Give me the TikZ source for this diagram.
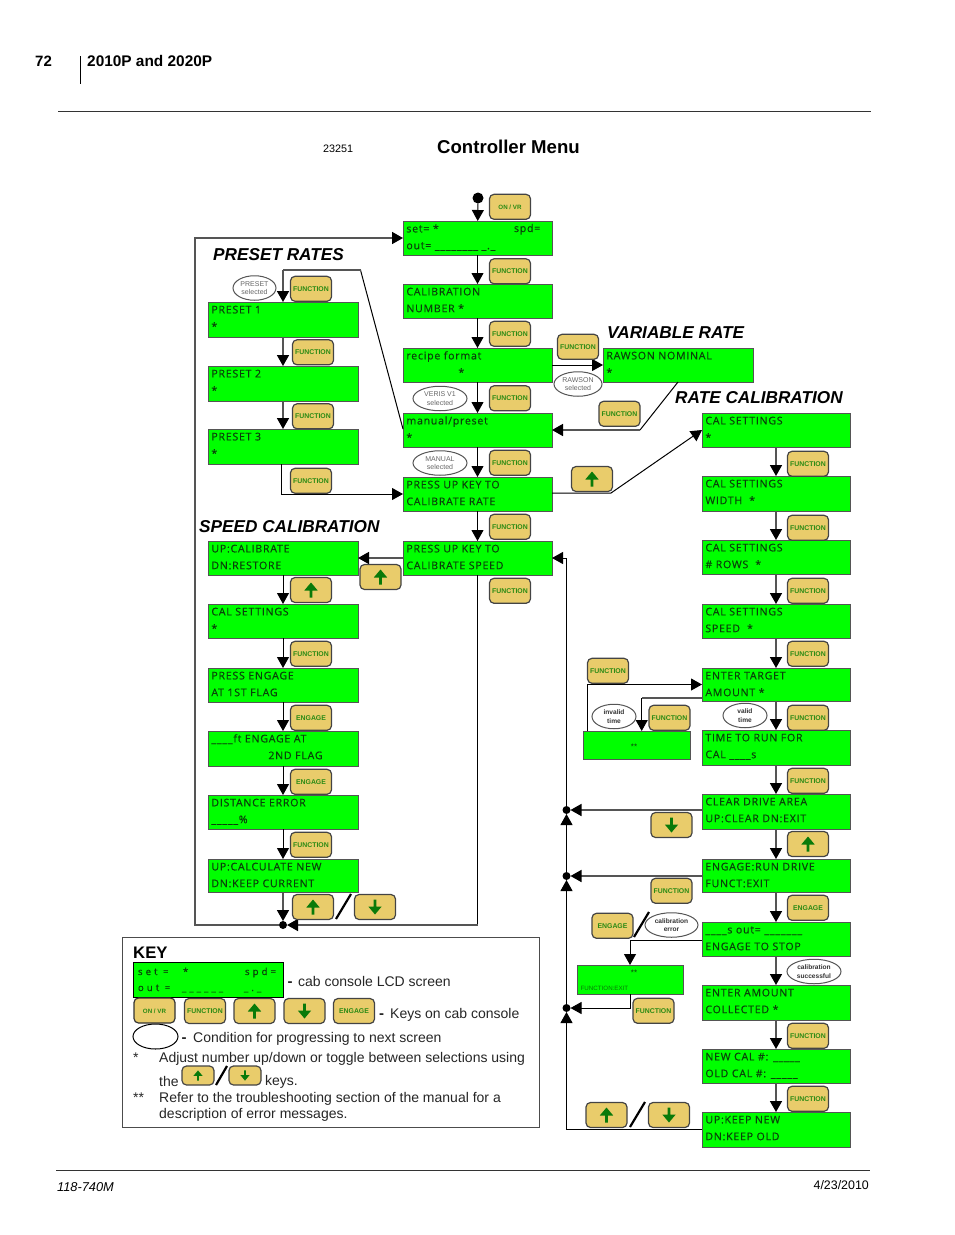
\documentclass[tikz,border=0pt]{standalone}
\usepackage{fontspec}
\setmainfont{Liberation Sans}
\newfontfamily\lcdfont[LetterSpace=7,FakeBold=0.3]{Open Sans}
\newfontfamily\lcdwide[LetterSpace=32,FakeBold=0.3]{Open Sans}
\usetikzlibrary{arrows.meta,shapes.geometric,calc}
\definecolor{lcdgreen}{HTML}{00FF00}
\definecolor{keyfill}{HTML}{E9CC6B}
\definecolor{keyink}{HTML}{2A8A14}
\definecolor{lcdink}{HTML}{0A400A}
\definecolor{edge}{HTML}{555555}
\definecolor{arrowgreen}{HTML}{0A7A0A}
\tikzset{
  lcdbox/.style={draw=edge,fill=lcdgreen,line width=1pt,inner sep=0pt,outer sep=0pt},
  lcdtext/.style={anchor=base west,inner sep=0pt,outer sep=0pt,text=lcdink,font=\lcdfont\fontsize{10.6}{12}\selectfont},
  keybox/.style={draw=edge!80!black,fill=keyfill,line width=1.2pt,rounded corners=4.5pt,minimum width=41pt,minimum height=25pt,inner sep=0pt,text=keyink,font=\fontsize{6.9}{8}\selectfont\bfseries},
  keysmall/.style={keybox,minimum width=32pt,minimum height=19pt},
  cond/.style={draw=edge,fill=white,ellipse,line width=1pt,inner sep=0pt,minimum height=24.5pt,align=center,text=black!60,font=\fontsize{7}{8.5}\selectfont},
  condb/.style={cond,text=black!80,font=\fontsize{6.6}{8.5}\selectfont\bfseries},
  dotn/.style={circle,fill=black,inner sep=0pt,minimum size=8pt,outer sep=0pt},
  arr/.style={-{Triangle[width=12pt,length=11pt,color=black]}},
  blk/.style={draw=black,line width=1pt},
  gry/.style={draw=edge,line width=1.6pt},
  heading/.style={anchor=base west,inner sep=0pt,font=\fontsize{17.2}{20}\selectfont\bfseries\itshape},
  plain/.style={anchor=base west,inner sep=0pt},
  legend/.style={anchor=base west,inner sep=0pt,text=black!85,font=\fontsize{14}{16}\selectfont},
  slashl/.style={draw=black,line width=2.2pt},
}
\newcommand\lcdscreen[7]{%
  \node[lcdbox,minimum width={(#4)-(#2)},minimum height={(#5)-(#3)}] (#1) at ({(#2+#4)/2},{(#3+#5)/2}) {};
  \node[lcdtext] (#1-a) at ([xshift=3.4pt,yshift=-11.4pt]#1.north west) {#6};
  \node[lcdtext] (#1-b) at ([xshift=3.4pt,yshift=-28.2pt]#1.north west) {#7};
}
\newcommand\fkey[4]{\node[keybox,text height=5pt,text depth=0pt] (#1) at (#2,{#3+0.8}) {#4};}
\newcommand\uparrowshape[2]{%
  \fill[arrowgreen,shift={(#1)},scale=#2] (0,-7.5)--(6.7,0.5)--(1.4,0.5)--(1.4,7.5)--(-1.4,7.5)--(-1.4,0.5)--(-6.7,0.5)--cycle;}
\newcommand\downarrowshape[2]{%
  \fill[arrowgreen,shift={(#1)},scale=#2] (0,7.5)--(6.7,-0.5)--(1.4,-0.5)--(1.4,-7.5)--(-1.4,-7.5)--(-1.4,-0.5)--(-6.7,-0.5)--cycle;}
\newcommand\upkey[3]{\node[keybox] (#1) at (#2,#3) {}; \uparrowshape{#1.center}{1}}
\newcommand\downkey[3]{\node[keybox] (#1) at (#2,#3) {}; \downarrowshape{#1.center}{1}}
\begin{document}
\begin{tikzpicture}[x=1pt,y=-1pt]
\useasboundingbox (0,0) rectangle (954,1235);
% page furniture
\node[plain,font=\fontsize{15}{16}\selectfont\bfseries] (pgno) at (35,66) {72};
\node[plain,font=\fontsize{15.4}{16}\selectfont\bfseries] (pgtitle) at (87,66) {2010P and 2020P};
\coordinate (rA) at (80,56); \coordinate (rB) at (80,84);
\draw[black,line width=.8pt] (rA) -- (rB);
\coordinate (hA) at (58,111); \coordinate (hB) at (871,111);
\draw[black!80,line width=.8pt] (hA) -- (hB);
\node[plain,font=\fontsize{10.8}{12}\selectfont] (fignum) at (323,152) {23251};
\node[plain,font=\fontsize{18.6}{20}\selectfont\bfseries] (menutitle) at (437,153) {Controller Menu};
\coordinate (fA) at (56,1170); \coordinate (fB) at (870,1170);
\draw[black!80,line width=.8pt] (fA) -- (fB);
\node[plain,font=\fontsize{12.8}{13}\selectfont\itshape] (docno) at (57,1191) {118-740M};
\node[anchor=base east,inner sep=0pt,font=\fontsize{12.4}{13}\selectfont] (docdate) at (869,1189) {4/23/2010};
% headings
\node[heading] (hPreset) at (213,260) {PRESET RATES};
\node[heading] (hVar) at (607,338) {VARIABLE RATE};
\node[heading] (hRate) at (675,403) {RATE CALIBRATION};
\node[heading] (hSpeed) at (199,532) {SPEED CALIBRATION};
% centre column
\lcdscreen{set}{403}{221}{552}{255}{set= *}{out= \_\_\_\_\_\_\_\_ \_.\_}
\node[lcdtext] (setspd) at (514,232) {spd=};
\lcdscreen{calnum}{403}{284}{552}{318}{CALIBRATION}{NUMBER *}
\lcdscreen{recipe}{403}{348}{552}{382}{recipe format}{\hspace*{52pt}*}
\lcdscreen{manual}{403}{413}{552}{447}{manual/preset}{*}
\lcdscreen{pup}{403}{477}{552}{511}{PRESS UP KEY TO}{CALIBRATE RATE}
\lcdscreen{pspeed}{403}{541}{552}{575}{PRESS UP KEY TO}{CALIBRATE SPEED}
\lcdscreen{rawson}{603}{348}{753}{382}{RAWSON NOMINAL}{*}
% presets
\lcdscreen{pone}{208}{302}{358}{337}{PRESET 1}{*}
\lcdscreen{ptwo}{208}{366}{358}{401}{PRESET 2}{*}
\lcdscreen{pthree}{208}{429}{358}{464}{PRESET 3}{*}
% speed calibration
\lcdscreen{ucal}{208}{541}{358}{575}{UP:CALIBRATE}{DN:RESTORE}
\lcdscreen{scal}{208}{604}{358}{638}{CAL SETTINGS}{*}
\lcdscreen{pengage}{208}{668}{358}{702}{PRESS ENGAGE}{AT 1ST FLAG}
\lcdscreen{ftengage}{208}{731}{358}{766}{\_\_\_\_ft ENGAGE AT}{\hspace*{57pt}2ND FLAG}
\lcdscreen{disterr}{208}{795}{358}{829}{DISTANCE ERROR}{\_\_\_\_\_\%}
\lcdscreen{calcnew}{208}{859}{358}{892}{UP:CALCULATE NEW}{DN:KEEP CURRENT}
% rate calibration
\lcdscreen{rone}{702}{413}{850}{447}{CAL SETTINGS}{*}
\lcdscreen{rtwo}{702}{476}{850}{511}{CAL SETTINGS}{WIDTH\ \ *}
\lcdscreen{rthree}{702}{540}{850}{574}{CAL SETTINGS}{\# ROWS\ \ *}
\lcdscreen{rfour}{702}{604}{850}{638}{CAL SETTINGS}{SPEED\ \ *}
\lcdscreen{target}{702}{668}{850}{701}{ENTER TARGET}{AMOUNT *}
\lcdscreen{timerun}{702}{730}{850}{765}{TIME TO RUN FOR}{CAL \_\_\_\_s}
\lcdscreen{clear}{702}{794}{850}{829}{CLEAR DRIVE AREA}{UP:CLEAR DN:EXIT}
\lcdscreen{run}{702}{859}{850}{892}{ENGAGE:RUN DRIVE}{FUNCT:EXIT}
\lcdscreen{sout}{702}{922}{850}{956}{\_\_\_\_s out= \_\_\_\_\_\_\_}{ENGAGE TO STOP}
\lcdscreen{collected}{702}{985}{850}{1020}{ENTER AMOUNT}{COLLECTED *}
\lcdscreen{newcal}{702}{1049}{850}{1083}{NEW CAL \#: \_\_\_\_\_}{OLD CAL \#: \_\_\_\_\_}
\lcdscreen{keep}{702}{1112}{850}{1147}{UP:KEEP NEW}{DN:KEEP OLD}
% error screens
\node[lcdbox,minimum width=107pt,minimum height=28pt] (errone) at (636.5,745) {};
\node[inner sep=0pt,text=lcdink,font=\fontsize{8}{9}\selectfont] (erronet) at (634,747) {**};
\node[lcdbox,minimum width=106pt,minimum height=29pt] (errtwo) at (630,979.5) {};
\node[inner sep=0pt,text=lcdink,font=\fontsize{8}{9}\selectfont] (errtwot) at (634,973) {**};
\node[plain,text=lcdink!70!lcdgreen,font=\fontsize{6.2}{7}\selectfont] (errtwob) at (580.5,990) {FUNCTION:EXIT};
% junction dots
\node[dotn,minimum size=11pt] (start) at (478,198) {};
\node[dotn] (dj) at (283,925) {};
\node[dotn] (dA) at (566.5,810) {};
\node[dotn] (dB) at (566.5,876) {};
\node[dotn] (dC) at (566.5,1008) {};
% free corners
\coordinate (oA) at (195,925);
\coordinate (oB) at (195,238);
\coordinate (oC) at (403,238);
\coordinate (psA) at (477.5,925);
\coordinate (mA) at (403,429);
\coordinate (mB) at (360.5,270);
\coordinate (mC) at (283,270);
\coordinate (pthreeS) at (281,464);
\coordinate (rawS) at (678,382);
\coordinate (rawB) at (640,430);
\coordinate (pupE) at (552,493);
\coordinate (pupB) at (611,493);
\coordinate (roneW) at (702,430);
\coordinate (erA) at (587,731);
\coordinate (tarW) at (702,698);
\coordinate (tarB) at (641.7,698);
\coordinate (souW) at (702,940);
\coordinate (souB) at (630,940);
% connectors
\draw[blk,arr] (start) -- (set);
\draw[blk,arr] (set) -- (calnum);
\draw[blk,arr] (calnum) -- (recipe);
\draw[blk,arr] (recipe) -- (manual);
\draw[blk,arr] (manual) -- (pup);
\draw[blk,arr] (pup) -- (pspeed);
\draw[gry,draw=edge,arr] (pspeed.west) -- (ucal.east);
\draw[gry,arr] (dj) -- (oA) -- (oB) -- (oC);
\draw[blk] (pspeed.south) -- (psA);
\draw[gry,arr] (psA) -- (dj);
\draw[gry,arr] (calcnew) -- (dj);
\draw[blk] (mA) -- (mB);
\draw[gry] (mB) -- (mC);
\draw[gry,arr] (mC) -- (pone);
\draw[gry,arr] (pone) -- (ptwo);
\draw[gry,arr] (ptwo) -- (pthree);
\draw[blk,arr] (pthreeS) |- (pup.west);
\draw[blk,arr] (recipe.east) -- (rawson.west);
\draw[blk] (rawS) -- (rawB);
\draw[gry,arr] (rawB) -- (manual.east);
\draw[blk,arr] (pupE) -- (pupB) -- (roneW);
\draw[blk,arr] (ucal) -- (scal);
\draw[blk,arr] (scal) -- (pengage);
\draw[blk,arr] (pengage) -- (ftengage);
\draw[blk,arr] (ftengage) -- (disterr);
\draw[blk,arr] (disterr) -- (calcnew);
\draw[gry,arr] (rone) -- (rtwo);
\draw[gry,arr] (rtwo) -- (rthree);
\draw[gry,arr] (rthree) -- (rfour);
\draw[gry,arr] (rfour) -- (target);
\draw[gry,arr] (target) -- (timerun);
\draw[gry,arr] (timerun) -- (clear);
\draw[gry,arr] (clear) -- (run);
\draw[gry,arr] (run) -- (sout);
\draw[gry,arr] (sout) -- (collected);
\draw[gry,arr] (collected) -- (newcal);
\draw[gry,arr] (newcal) -- (keep);
\draw[blk,arr] (erA) |- (target.west);
\draw[gry,line width=1.2pt] (tarW) -- (tarB);
\draw[blk,arr] (tarB) -- (tarB |- errone.north);
\draw[gry,arr] (clear.west |- dA) -- (dA);
\draw[gry,arr] (run.west |- dB) -- (dB);
\draw[blk] (souW) -- (souB);
\draw[blk,arr] (souB) -- (errtwo);
\draw[blk,arr] (errtwo.south) |- (dC);
\draw[blk,arr] (keep.west) -| (dC);
\draw[blk,arr] (dC) -- (dB);
\draw[blk,arr] (dB) -- (dA);
\draw[blk,arr] (dA) |- (pspeed.east);
% keys, centre
\fkey{kOn}{510}{206}{\fontsize{6.2}{8}\selectfont ON / VR}
\fkey{kF1}{510}{270.5}{FUNCTION}
\fkey{kF2}{510}{333}{FUNCTION}
\fkey{kF3}{510}{397.5}{FUNCTION}
\fkey{kF4}{510}{462}{FUNCTION}
\fkey{kF5}{510}{526}{FUNCTION}
\fkey{kF6}{510}{590}{FUNCTION}
\fkey{kRaw}{578}{346}{FUNCTION}
\fkey{kVar}{619.5}{413}{FUNCTION}
\upkey{kUpRate}{592}{479}
% keys, presets
\fkey{kP1}{311}{288}{FUNCTION}
\fkey{kP2}{313}{351.5}{FUNCTION}
\fkey{kP3}{313}{415.5}{FUNCTION}
\fkey{kP4}{311}{480}{FUNCTION}
% keys, speed
\upkey{kUpSpeed}{380.5}{577}
\upkey{kS1}{311}{590}
\fkey{kS2}{311}{653}{FUNCTION}
\fkey{kS3}{311}{717}{ENGAGE}
\fkey{kS4}{311}{781}{ENGAGE}
\fkey{kS5}{311}{844}{FUNCTION}
\upkey{kS6}{313}{907}
\downkey{kS7}{375}{907}
\coordinate (slA) at (336,919); \coordinate (slB) at (351,894);
\draw[slashl] (slA) -- (slB);
% keys, rate
\fkey{kR1}{808}{463}{FUNCTION}
\fkey{kR2}{808}{527}{FUNCTION}
\fkey{kR3}{808}{590}{FUNCTION}
\fkey{kR4}{808}{653}{FUNCTION}
\fkey{kR5}{808}{717}{FUNCTION}
\fkey{kR6}{808}{780}{FUNCTION}
\upkey{kR7}{808}{844}
\fkey{kR8}{808}{907}{ENGAGE}
\fkey{kR9}{808}{1035}{FUNCTION}
\fkey{kR10}{808}{1098}{FUNCTION}
\fkey{kT1}{608}{670}{FUNCTION}
\fkey{kT2}{669.5}{717}{FUNCTION}
\downkey{kT3}{671.5}{825}
\fkey{kT4}{671.5}{890}{FUNCTION}
\fkey{kT5}{612.5}{925}{ENGAGE}
\coordinate (slC) at (634,937); \coordinate (slD) at (649,912);
\draw[slashl] (slC) -- (slD);
\fkey{kT6}{653.5}{1010}{FUNCTION}
\upkey{kT7}{606.5}{1115}
\coordinate (slE) at (630,1127); \coordinate (slF) at (645,1102);
\draw[slashl] (slE) -- (slF);
\downkey{kT8}{669}{1115}
% conditions
\node[cond,minimum width=43pt] (cPreset) at (254.5,288) {PRESET\\selected};
\node[cond,minimum width=54pt] (cVeris) at (440,398.5) {VERIS V1\\selected};
\node[cond,minimum width=54pt] (cManual) at (440,463) {MANUAL\\selected};
\node[cond,minimum width=48pt] (cRawson) at (578,384) {RAWSON\\selected};
\node[condb,minimum width=44pt] (cInvalid) at (614,716.5) {invalid\\time};
\node[condb,minimum width=44pt] (cValid) at (745,715.5) {valid\\time};
\node[condb,minimum width=53pt] (cErr) at (671.5,925) {calibration\\error};
\node[condb,minimum width=54pt] (cOk) at (814,971.5) {calibration\\successful};
% key panel
\node[draw=black!70,fill=white,line width=1pt,minimum width=417pt,minimum height=190pt,inner sep=0pt] (panel) at (330.5,1032.5) {};
\node[plain,font=\fontsize{16.7}{18}\selectfont\bfseries] (kTitle) at (133,958) {KEY};
\node[draw=black,fill=lcdgreen,line width=.8pt,minimum width=150pt,minimum height=35pt,inner sep=0pt] (kLcd) at (208,979.5) {};
\tikzset{lcdw/.style={lcdtext,font=\lcdwide\fontsize{9.6}{11}\selectfont}}
\node[lcdw] (kLa) at (138,975) {set =};
\node[lcdw] (kLb) at (183,975) {*};
\node[lcdw] (kLc) at (245,975) {spd=};
\node[lcdw] (kLd) at (138,991) {out =};
\node[lcdw] (kLe) at (182,991) {\_\_\_\_\_\_};
\node[lcdw] (kLf) at (244,991) {\_.\_};
\node[legend,font=\fontsize{15}{16}\selectfont\bfseries] (dash1) at (287.5,986) {-};
\node[legend] (tLcd) at (298,986) {cab console LCD screen};
\node[keybox,draw=black!80,text height=5pt,text depth=0pt] (lOn) at (154.5,1010.5) {\fontsize{6.2}{8}\selectfont ON / VR};
\node[keybox,text height=5pt,text depth=0pt] (lF) at (205,1011) {FUNCTION};
\upkey{lUp}{254.5}{1011}
\downkey{lDn}{304.5}{1011}
\node[keybox,text height=5pt,text depth=0pt] (lE) at (354,1011) {ENGAGE};
\node[legend,font=\fontsize{15}{16}\selectfont\bfseries] (dash2) at (379,1018) {-};
\node[legend] (tKeys) at (390,1018) {Keys on cab console};
\node[draw=black,fill=white,ellipse,line width=1pt,minimum width=45pt,minimum height=25pt,inner sep=0pt] (lCond) at (155.5,1036.5) {};
\node[legend,font=\fontsize{15}{16}\selectfont\bfseries] (dash3) at (181.5,1042) {-};
\node[legend] (tCond) at (193,1042) {Condition for progressing to next screen};
\node[legend] (tStar) at (133,1062) {*};
\node[legend] (tAdj) at (159,1062) {Adjust number up/down or toggle between selections using};
\node[legend] (tThe) at (159,1086) {the};
\node[keysmall] (sUp) at (198,1075.5) {};
\uparrowshape{sUp.center}{.68}
\node[keysmall] (sDn) at (245,1075.5) {};
\downarrowshape{sDn.center}{.68}
\coordinate (slG) at (216,1085); \coordinate (slH) at (227,1066);
\draw[slashl] (slG) -- (slH);
\node[legend] (tKeysb) at (265,1085) {keys.};
\node[legend] (tStars) at (133,1102) {**};
\node[legend] (tRefer) at (159,1102) {Refer to the troubleshooting section of the manual for a};
\node[legend] (tDesc) at (159,1118) {description of error messages.};
\end{tikzpicture}
\end{document}
